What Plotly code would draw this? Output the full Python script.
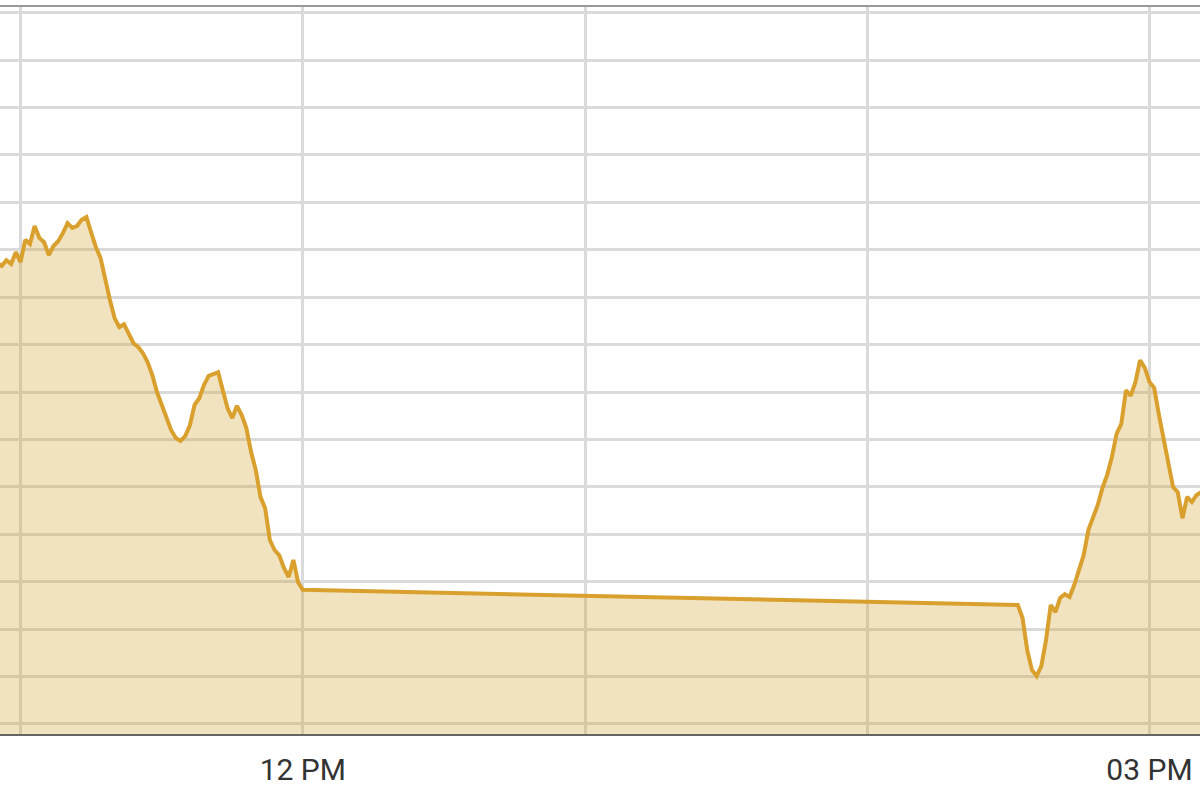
import plotly.graph_objects as go

DAY = "2024-01-01 "

# Morning session
am_times = ["10:55", "10:56", "10:57", "10:58", "10:59", "11:00", "11:01", "11:02", "11:03", "11:04",
            "11:05", "11:06", "11:07", "11:08", "11:09", "11:10", "11:11", "11:12", "11:13", "11:14",
            "11:15", "11:16", "11:17", "11:18", "11:19", "11:20", "11:21", "11:22", "11:23", "11:24",
            "11:25", "11:26", "11:27", "11:28", "11:29", "11:30", "11:31", "11:32", "11:33", "11:34",
            "11:35", "11:36", "11:37", "11:38", "11:39", "11:40", "11:41", "11:42", "11:43", "11:44",
            "11:45", "11:46", "11:47", "11:48", "11:49", "11:50", "11:51", "11:52", "11:53", "11:54",
            "11:55", "11:56", "11:57", "11:58", "11:59", "12:00"]
am_values = [9.93, 9.87, 9.99, 9.91, 10.16, 9.95, 10.42, 10.33, 10.71, 10.46,
             10.37, 10.10, 10.29, 10.39, 10.56, 10.77, 10.67, 10.71, 10.84, 10.90,
             10.58, 10.27, 10.04, 9.57, 9.15, 8.77, 8.58, 8.64, 8.45, 8.24,
             8.16, 8.03, 7.84, 7.57, 7.21, 6.94, 6.62, 6.41, 6.24, 6.18,
             6.28, 6.51, 6.94, 7.08, 7.36, 7.55, 7.59, 7.63, 7.25, 6.87,
             6.66, 6.92, 6.73, 6.45, 5.95, 5.57, 5.00, 4.76, 4.09, 3.88,
             3.77, 3.50, 3.31, 3.67, 3.20, 3.04]

# Afternoon session
pm_times = ["14:32", "14:33", "14:34", "14:35", "14:36", "14:37", "14:38", "14:39", "14:40", "14:41",
            "14:42", "14:43", "14:44", "14:45", "14:46", "14:47", "14:48", "14:49", "14:50", "14:51",
            "14:52", "14:53", "14:54", "14:55", "14:56", "14:57", "14:58", "14:59", "15:00", "15:01",
            "15:02", "15:03", "15:04", "15:05", "15:06", "15:07", "15:08", "15:09", "15:10", "15:11"]
pm_values = [2.72, 2.45, 1.77, 1.35, 1.22, 1.43, 1.98, 2.72, 2.57, 2.87,
             2.95, 2.89, 3.14, 3.46, 3.77, 4.30, 4.55, 4.83, 5.19, 5.46,
             5.84, 6.33, 6.54, 7.25, 7.13, 7.42, 7.88, 7.72, 7.42, 7.30,
             6.73, 6.20, 5.73, 5.21, 5.10, 4.55, 5.00, 4.89, 5.04, 5.10]

times = [DAY + t for t in am_times + pm_times]
values = am_values + pm_values

LINE = "#D9A02E"
FILL = "rgba(208,162,45,0.30)"
GRID = "#DADADA"

fig = go.Figure()
fig.add_trace(go.Scatter(
    x=times, y=values, mode="lines",
    line=dict(color=LINE, width=4),
    fill="tozeroy", fillcolor=FILL,
    hoverinfo="skip", showlegend=False,
))

fig.update_layout(
    width=1200, height=799,
    margin=dict(l=0, r=0, t=6, b=65, pad=0),
    paper_bgcolor="white", plot_bgcolor="white",
    font=dict(family="Roboto, Arial, sans-serif"),
    showlegend=False,
    shapes=[dict(type="line", xref="paper", yref="paper", x0=0, x1=1, y0=1, y1=1,
                 line=dict(color="#999999", width=2))],
)

fig.update_xaxes(
    type="date", automargin=False,
    range=[DAY + "10:55:38", DAY + "15:10:44"],
    tick0=DAY + "12:00", dtick=3 * 3600000, tickformat="%I %p",
    showgrid=True, gridcolor=GRID, gridwidth=2.5,
    minor=dict(dtick=3600000, showgrid=True, gridcolor=GRID, gridwidth=2.5),
    showline=True, linecolor="#666666", linewidth=2,
    ticks="outside", ticklen=8, tickcolor="rgba(0,0,0,0)",
    tickfont=dict(size=30, color="#333333", family="Roboto, Arial, sans-serif"),
    fixedrange=True,
)
fig.update_yaxes(
    automargin=False,
    range=[0, 15.35], tick0=0.211, dtick=1,
    showticklabels=False, showgrid=True, gridcolor=GRID, gridwidth=2.5,
    zeroline=False, fixedrange=True,
)

fig.write_html(
    "out.html",
    config={"displayModeBar": False},
    post_script="document.body.style.margin='0';document.body.style.overflow='hidden';",
)
